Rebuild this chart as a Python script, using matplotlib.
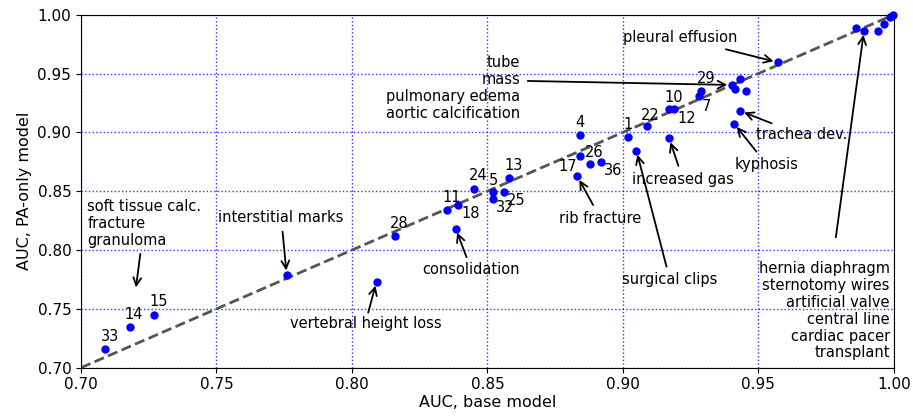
import matplotlib
matplotlib.use('Agg')
import matplotlib.pyplot as plt

# numbered findings: id, AUC base model, AUC PA-only model
num_ids = ['33', '14', '15', '28', '11', '18', '24', '5', '32', '25', '13',
           '17', '4', '26', '36', '1', '22', '10', '12', '7', '29']
num_base = [0.709, 0.718, 0.727, 0.816, 0.835, 0.839, 0.845, 0.852, 0.852, 0.856, 0.858,
            0.884, 0.884, 0.888, 0.892, 0.902, 0.909, 0.917, 0.919, 0.928, 0.929]
num_pa = [0.716, 0.735, 0.745, 0.812, 0.834, 0.838, 0.852, 0.849, 0.843, 0.849, 0.861,
          0.880, 0.898, 0.873, 0.875, 0.896, 0.905, 0.920, 0.920, 0.931, 0.935]
# where each number is written
num_txt_x = [0.7107, 0.7196, 0.7287, 0.8175, 0.8367, 0.8437, 0.8465, 0.8522, 0.8565, 0.8605, 0.8597,
             0.8798, 0.8841, 0.8895, 0.8964, 0.9020, 0.9102, 0.9188, 0.9235, 0.9309, 0.9306]
num_txt_y = [0.7264, 0.7455, 0.7559, 0.8222, 0.8449, 0.8309, 0.8632, 0.8590, 0.8358, 0.8417, 0.8717,
             0.8714, 0.9082, 0.8833, 0.8675, 0.9071, 0.9142, 0.9298, 0.9120, 0.9224, 0.9454]

# named findings
named_base = [0.7759, 0.8091, 0.8383, 0.8832, 0.9050, 0.9171, 0.9411, 0.9433, 0.9571,
              0.9401, 0.9412, 0.9432, 0.9453,
              0.9859, 0.9890, 0.9942, 0.9962, 0.9986, 0.9996]
named_pa = [0.7791, 0.7732, 0.8182, 0.8627, 0.8845, 0.8950, 0.9074, 0.9182, 0.9596,
            0.9403, 0.9371, 0.9454, 0.9354,
            0.9887, 0.9864, 0.9864, 0.9921, 0.9978, 0.9995]

# annotations: text, text position, arrow tail, arrow head, alignment
notes = [
    ('interstitial marks', (0.7738, 0.8275), (0.7744, 0.8156), (0.7759, 0.7791), 'center'),
    ('vertebral height loss', (0.8051, 0.7378), (0.8060, 0.7468), (0.8091, 0.7732), 'center'),
    ('consolidation', (0.8441, 0.7831), (0.8423, 0.7939), (0.8383, 0.8182), 'center'),
    ('rib fracture', (0.8915, 0.8264), (0.8890, 0.8383), (0.8832, 0.8627), 'center'),
    ('surgical clips', (0.9173, 0.7746), (0.9161, 0.7859), (0.9050, 0.8845), 'center'),
    ('increased gas', (0.9221, 0.8596), (0.9205, 0.8715), (0.9171, 0.8950), 'center'),
    ('kyphosis', (0.9530, 0.8723), (0.9493, 0.8836), (0.9411, 0.9074), 'center'),
    ('trachea dev.', (0.9659, 0.8984), (0.9549, 0.9077), (0.9433, 0.9182), 'center'),
    ('pleural effusion', (0.9210, 0.9805), (0.9380, 0.9706), (0.9571, 0.9596), 'center'),
    ('tube\nmass\npulmonary edema\naortic calcification', (0.8620, 0.9377), (0.8649, 0.9437),
     (0.9401, 0.9403), 'right'),
    ('soft tissue calc.\nfracture\ngranuloma', (0.7023, 0.8226), (0.7219, 0.7967), (0.7201, 0.7647), 'left'),
    ('hernia diaphragm\nsternotomy wires\nartificial valve\ncentral line\ncardiac pacer\ntransplant',
     (0.9985, 0.7483), (0.9786, 0.8109), (0.9890, 0.9864), 'right'),
]

fig = plt.figure(figsize=(9.13, 4.18), dpi=100)
ax = fig.add_axes([0.0887, 0.1203, 0.8903, 0.8445])

ax.plot([0.7, 1.0], [0.7, 1.0], '--', color='#555555', lw=2, zorder=2)
ax.plot(num_base, num_pa, 'o', color='blue', ms=5, zorder=3, clip_on=False)
ax.plot(named_base, named_pa, 'o', color='blue', ms=5, zorder=3, clip_on=False)

for lab, tx, ty in zip(num_ids, num_txt_x, num_txt_y):
    ax.text(tx, ty, lab, ha='center', va='center', fontsize=10.5, zorder=4)

for txt, pos, tail, head, ha in notes:
    ax.text(pos[0], pos[1], txt, ha=ha, va='center', fontsize=10.5, zorder=4,
            multialignment=ha, linespacing=1.15)
    ax.annotate('', xy=head, xytext=tail,
                arrowprops=dict(arrowstyle='->', color='black', lw=1.3,
                                shrinkA=0, shrinkB=3, mutation_scale=14))

ax.set_xlim(0.7, 1.0)
ax.set_ylim(0.7, 1.0)
ax.set_xticks([0.70, 0.75, 0.80, 0.85, 0.90, 0.95, 1.00])
ax.set_yticks([0.70, 0.75, 0.80, 0.85, 0.90, 0.95, 1.00])
ax.set_xticklabels(['0.70', '0.75', '0.80', '0.85', '0.90', '0.95', '1.00'], fontsize=11)
ax.set_yticklabels(['0.70', '0.75', '0.80', '0.85', '0.90', '0.95', '1.00'], fontsize=11)
ax.grid(True, color='blue', linestyle=':', lw=1, alpha=0.8)
ax.set_axisbelow(True)
ax.set_xlabel('AUC, base model', fontsize=11.5, labelpad=2)
ax.set_ylabel('AUC, PA-only model', fontsize=11.5, labelpad=4)

fig.savefig('out.png', dpi=100)
